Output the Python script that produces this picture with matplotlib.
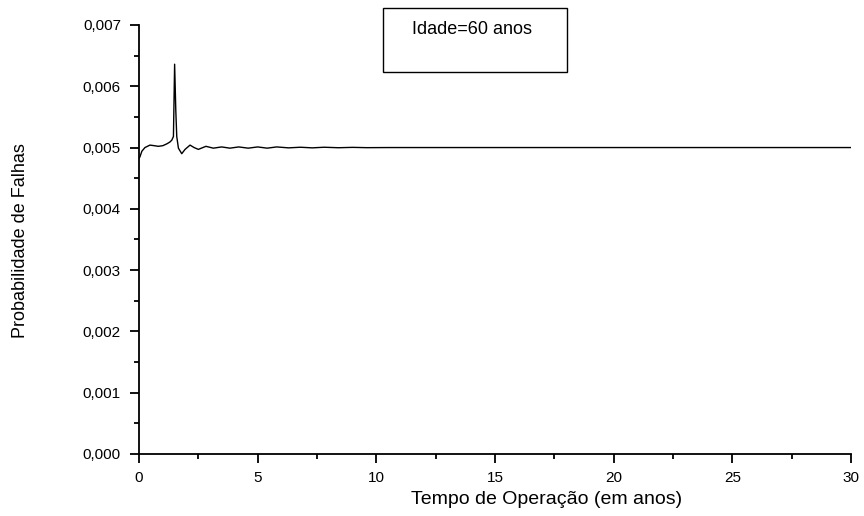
import matplotlib
matplotlib.use("Agg")
import matplotlib.pyplot as plt
from matplotlib.patches import Rectangle
from matplotlib.ticker import MultipleLocator, FuncFormatter

plt.rcParams['font.family'] = ['Liberation Sans', 'DejaVu Sans']

# curva (tempo em anos, probabilidade)
tempo = [0.0, 0.04, 0.12, 0.25, 0.46, 0.65, 0.81, 1.0, 1.17, 1.30, 1.38, 1.45,
         1.50, 1.55, 1.59, 1.66, 1.80, 1.94, 2.15, 2.32, 2.50, 2.82, 3.13,
         3.48, 3.83, 4.2, 4.6, 5.0, 5.4, 5.8, 6.3, 6.8, 7.3, 7.8, 8.4, 9.0,
         9.6, 10.5, 12.0, 30.0]
prob = [0.00482, 0.00485, 0.00494, 0.00500, 0.00504, 0.00503, 0.00502,
        0.00503, 0.00506, 0.00509, 0.00512, 0.00518, 0.00636, 0.00560,
        0.00518, 0.00499, 0.00490, 0.00497, 0.00504, 0.00500, 0.00497,
        0.00502, 0.00499, 0.00501, 0.00499, 0.00501, 0.00499, 0.00501,
        0.00499, 0.00501, 0.004995, 0.005005, 0.004995, 0.005005, 0.004997,
        0.005003, 0.004998, 0.00500, 0.00500, 0.00500]

xticks = [0, 5, 10, 15, 20, 25, 30]
yticks = [0.000, 0.001, 0.002, 0.003, 0.004, 0.005, 0.006, 0.007]

fig = plt.figure(figsize=(8.64, 5.16), dpi=100)
ax = fig.add_axes([0.1609, 0.1202, 0.8241, 0.8314])

ax.plot(tempo, prob, color='black', lw=1.0)

ax.set_xlim(0, 30)
ax.set_ylim(0, 0.007)
ax.set_xticks(xticks)
ax.set_yticks(yticks)
ax.xaxis.set_minor_locator(MultipleLocator(2.5))
ax.yaxis.set_minor_locator(MultipleLocator(0.0005))
ax.yaxis.set_major_formatter(FuncFormatter(lambda v, p: f"{v:.3f}".replace('.', ',')))

for s in ['top', 'right']:
    ax.spines[s].set_visible(False)
for s in ['left', 'bottom']:
    ax.spines[s].set_linewidth(1.3)

ax.tick_params(which='major', direction='out', length=6.5, width=1.3, labelsize=11)
ax.tick_params(which='minor', direction='out', length=3.3, width=1.3)
ax.tick_params(axis='x', which='major', pad=5.5)
ax.tick_params(axis='y', which='major', pad=6.5)

ax.set_xlabel("Tempo de Operação (em anos)", fontsize=14)
ax.xaxis.set_label_coords(0.572, -0.107)
ax.xaxis.label.set_va('center')
ax.set_ylabel("Probabilidade de Falhas", fontsize=13)
ax.yaxis.set_label_coords(-0.167, 0.4965)
ax.yaxis.label.set_va('center')

fig.patches.append(Rectangle((0.4433, 0.8605), 0.213, 0.124, transform=fig.transFigure,
                             fill=False, edgecolor='black', lw=1.0))
fig.text(0.546, 0.942, "Idade=60 anos", fontsize=13, ha='center', va='center')

fig.savefig("out.png", dpi=100)
